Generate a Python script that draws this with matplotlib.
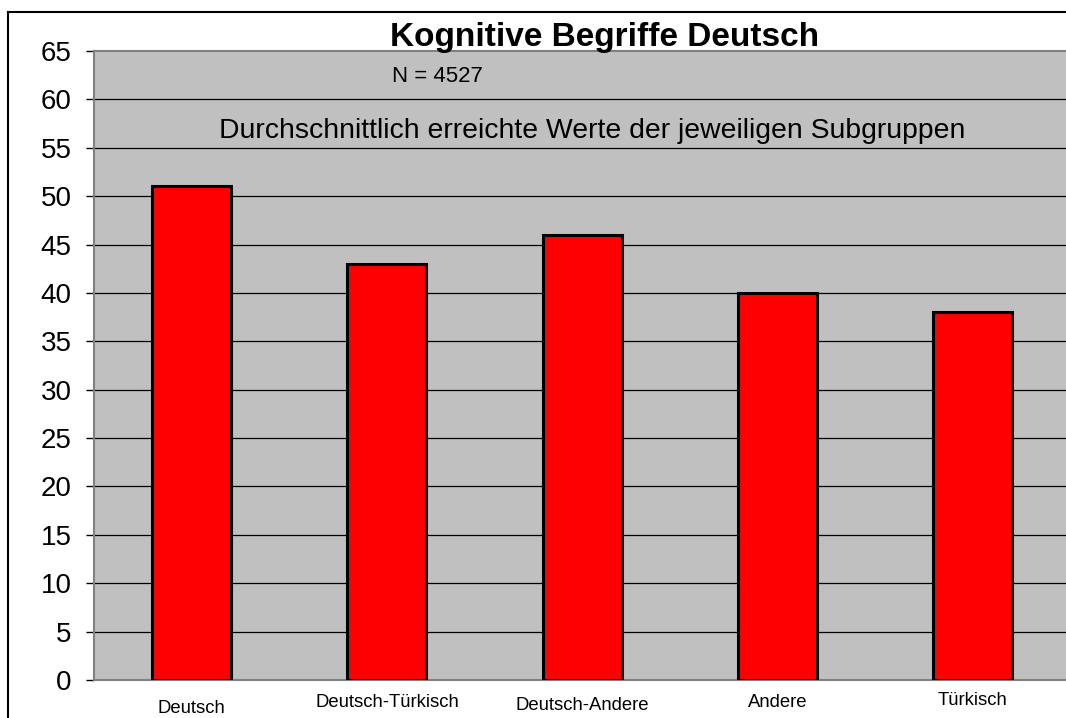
import matplotlib
matplotlib.use('agg')
import matplotlib.pyplot as plt
from matplotlib.lines import Line2D

# data
groups = ['Deutsch', 'Deutsch-Türkisch', 'Deutsch-Andere', 'Andere', 'Türkisch']
values = [51, 43, 46, 40, 38]
yticks = list(range(0, 70, 5))
title = 'Kognitive Begriffe Deutsch'
n_text = 'N = 4527'
subtitle = 'Durchschnittlich erreichte Werte der jeweiligen Subgruppen'

plt.rcParams['font.family'] = ['Liberation Sans', 'DejaVu Sans']

W, H = 1066, 718
fig = plt.figure(figsize=(W / 100, H / 100), dpi=100)
fig.patch.set_facecolor('white')

# plot area: x 94..(beyond right edge), y 51..680 in pixels
ax = fig.add_axes([94 / W, 1 - 680 / H, 1 - 94 / W, 629 / H])
ax.set_facecolor('#c0c0c0')

x = list(range(len(groups)))
ax.bar(x, values, width=0.405, color='#ff0000', edgecolor='black',
       linewidth=2.2, zorder=3)

ax.set_xlim(-0.5, -0.5 + 972 / 195.3)
ax.set_ylim(0, 65)
ax.set_yticks(yticks)
ax.set_yticklabels([str(t) for t in yticks], fontsize=20)
ax.set_xticks([])
ax.tick_params(axis='y', length=6, width=1, color='black', pad=10, direction='out')

for y in yticks[1:-1]:
    ax.axhline(y, color='black', lw=0.9, zorder=1)

for side in ['left', 'bottom', 'top']:
    ax.spines[side].set_color('#808080')
    ax.spines[side].set_linewidth(1.5)
ax.spines['right'].set_visible(False)

# category labels at slightly different heights (pixel baselines)
baselines = [713, 707, 710, 707, 705]
for i, (g, b) in enumerate(zip(groups, baselines)):
    ax.text(i, (680 - b) / 629, g, transform=ax.get_xaxis_transform(),
            ha='center', va='baseline', fontsize=13.3)

# title and text boxes
fig.text(605 / W, 1 - 46 / H, title, ha='center', va='baseline',
         fontsize=24, fontweight='bold')
fig.text(392 / W, 1 - 82 / H, n_text, ha='left', va='baseline', fontsize=16)
fig.text(592.5 / W, 1 - 138 / H, subtitle, ha='center', va='baseline', fontsize=20.4)

# outer chart border (only top and left edges are inside the crop)
fig.add_artist(Line2D([8 / W, 1.0], [1 - 12 / H, 1 - 12 / H], transform=fig.transFigure,
                      color='black', lw=1.5))
fig.add_artist(Line2D([8 / W, 8 / W], [0.0, 1 - 12 / H], transform=fig.transFigure,
                      color='black', lw=1.5))

fig.savefig('out.png', dpi=100)
